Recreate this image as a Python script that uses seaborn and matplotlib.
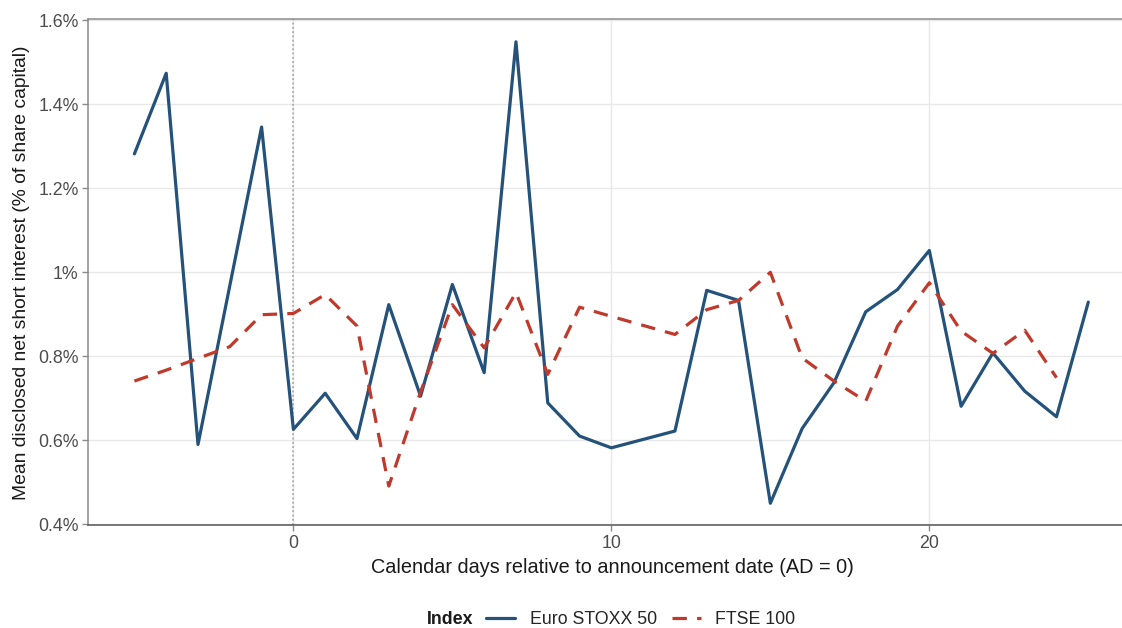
import numpy as np
import pandas as pd
import matplotlib
matplotlib.use("Agg")
import matplotlib.pyplot as plt
import seaborn as sns
from matplotlib.ticker import FuncFormatter

# Event-window days and mean disclosed net short interest (% of share capital)
euro_days = [-5, -4, -3, -1, 0, 1, 2, 3, 4, 5, 6, 7, 8, 9, 10, 12, 13, 14, 15,
             16, 17, 18, 19, 20, 21, 22, 23, 24, 25]
euro_values = [1.282, 1.474, 0.590, 1.346, 0.626, 0.712, 0.604, 0.923, 0.705,
               0.971, 0.761, 1.549, 0.689, 0.610, 0.582, 0.622, 0.957, 0.933,
               0.450, 0.628, 0.737, 0.906, 0.959, 1.052, 0.681, 0.808, 0.717,
               0.656, 0.929]

ftse_days = [-5, -4, -3, -2, -1, 0, 1, 2, 3, 4, 5, 6, 7, 8, 9, 10, 12, 13, 14,
             15, 16, 17, 18, 19, 20, 21, 22, 23, 24]
ftse_values = [0.741, 0.767, 0.795, 0.823, 0.899, 0.902, 0.947, 0.872, 0.491,
               0.715, 0.923, 0.820, 0.952, 0.757, 0.917, 0.895, 0.852, 0.911,
               0.933, 1.000, 0.796, 0.741, 0.693, 0.872, 0.975, 0.860, 0.807,
               0.862, 0.749]

series_names = ["Euro STOXX 50", "FTSE 100"]
y_ticks = [0.4, 0.6, 0.8, 1.0, 1.2, 1.4, 1.6]
x_ticks = [0, 10, 20]

df = pd.concat([
    pd.DataFrame({"day": euro_days, "value": euro_values, "Index": series_names[0]}),
    pd.DataFrame({"day": ftse_days, "value": ftse_values, "Index": series_names[1]}),
], ignore_index=True)

sns.set_theme(style="white")
plt.rcParams["font.family"] = ["Liberation Sans", "DejaVu Sans"]

W, H = 1122, 628
fig = plt.figure(figsize=(W / 100, H / 100), dpi=100)
# panel in pixel coordinates (extends slightly past the right edge)
left_px, right_px, top_px, bottom_px = 88.3, 1136.0, 19.3, 525.3
ax = fig.add_axes([left_px / W, 1 - bottom_px / H,
                   (right_px - left_px) / W, (bottom_px - top_px) / H])

palette = {series_names[0]: "#24527a", series_names[1]: "#c0392b"}
dashes = {series_names[0]: "", series_names[1]: (4.5, 3.2)}

ax.axvline(0, color="#a0a0a0", linestyle=(0, (1.2, 1.6)), linewidth=1.1, zorder=1)

sns.lineplot(data=df, x="day", y="value", hue="Index", style="Index",
             palette=palette, dashes=dashes, linewidth=2.3, ax=ax,
             legend=True, zorder=3)

ax.set_xlim(-6.45, 26.5)
ax.set_ylim(0.3975, 1.6025)
ax.set_xticks(x_ticks)
ax.set_yticks(y_ticks)
ax.yaxis.set_major_formatter(FuncFormatter(
    lambda v, _: ("%.1f" % v).rstrip("0").rstrip(".") + "%"))

ax.grid(True, color="#e8e8e8", linewidth=1.0, zorder=0)
ax.set_axisbelow(True)

for side in ["top", "left"]:
    ax.spines[side].set_color("#8a8a8a")
    ax.spines[side].set_linewidth(1.1)
ax.spines["bottom"].set_color("#555555")
ax.spines["bottom"].set_linewidth(1.1)
ax.spines["right"].set_visible(False)

ax.tick_params(axis="both", which="major", length=4, width=1.0, color="#8a8a8a",
               labelsize=12.8, labelcolor="#4d4d4d", direction="out", pad=3,
               bottom=True, left=True)

ax.set_xlabel("Calendar days relative to announcement date (AD = 0)",
              fontsize=14.3, color="#1a1a1a", labelpad=4)
ax.set_ylabel("Mean disclosed net short interest (% of share capital)",
              fontsize=13.9, color="#1a1a1a", labelpad=6)

# legend laid out in one row under the panel, title to the left
handles, labels = ax.get_legend_handles_labels()
ax.get_legend().remove()
pairs = [(h, l) for h, l in zip(handles, labels) if l in series_names]
leg = fig.legend([p[0] for p in pairs], [p[1] for p in pairs],
                 loc="center left", bbox_to_anchor=(486 / W, 1 - 620 / H),
                 ncol=2, frameon=False, fontsize=12.8, handlelength=1.65,
                 handletextpad=0.8, columnspacing=0.85, borderaxespad=0,
                 borderpad=0)
for line in leg.get_lines():
    line.set_linewidth(2.3)
fig.text(427 / W, 1 - 620 / H, "Index", fontsize=12.8, fontweight="bold",
         color="#1a1a1a", ha="left", va="center")

fig.savefig("out.png", dpi=100)
